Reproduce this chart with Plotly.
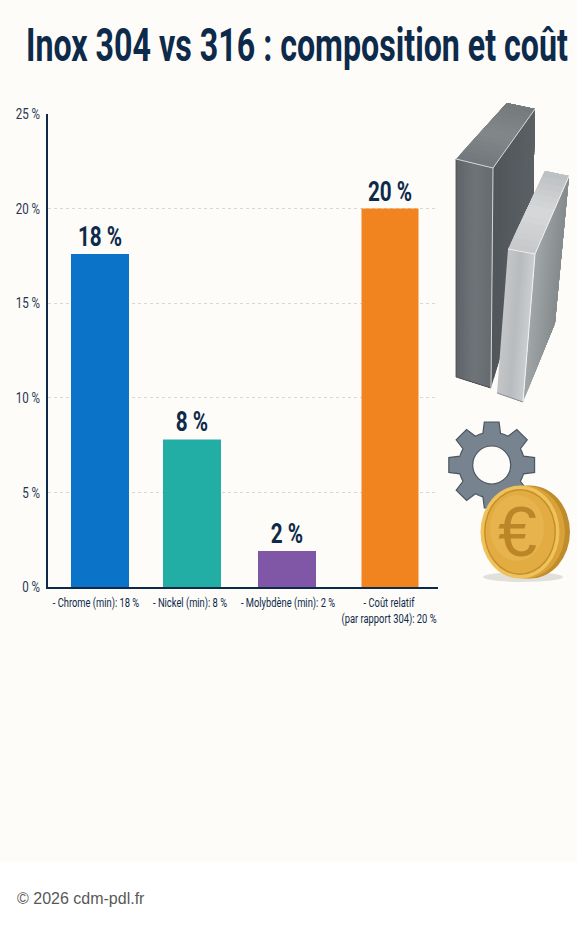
import numpy as np
import plotly.graph_objects as go

W, H = 577, 926
categories = ["- Chrome (min): 18 %", "- Nickel (min): 8 %", "- Molybdène (min): 2 %",
              "- Coût relatif<br>(par rapport 304): 20 %"]
values = [17.6, 7.8, 1.9, 20.0]
value_labels = ["18 %", "8 %", "2 %", "20 %"]
y_ticks = [0, 5, 10, 15, 20, 25]
y_tick_labels = ["0 %", "5 %", "10 %", "15 %", "20 %", "25 %"]

bar_colors = ["#0B74C8", "#22ADA5", "#8056A6", "#F2841F"]
bar_slots = [100, 192, 287, 390]
bar_widths = [58, 58, 58, 57]
label_slots = [96, 190, 288, 389]

NAVY = "#0E2A4A"
BG = "#FDFCF9"
FONT = "Roboto, sans-serif"

px = lambda x: x / W
py = lambda y: 1 - y / H


def poly(points, fill, line=None, lw=0.0, closed=True):
    d = "M " + " L ".join(f"{px(x):.5f},{py(y):.5f}" for x, y in points) + (" Z" if closed else "")
    return dict(type="path", xref="paper", yref="paper", path=d, fillcolor=fill,
                line=dict(color=line or fill, width=lw), layer="above")


def edge(points, color, lw):
    return poly(points, "rgba(0,0,0,0)", color, lw, closed=False)


def ellipse(cx, cy, rx, ry, fill, line=None, lw=0.0):
    return dict(type="circle", xref="paper", yref="paper", x0=px(cx - rx), x1=px(cx + rx),
                y0=py(cy + ry), y1=py(cy - ry), fillcolor=fill,
                line=dict(color=line or fill, width=lw), layer="above")


def hexrgb(c):
    return np.array([int(c[i:i + 2], 16) for i in (1, 3, 5)], float)


def grad(a, b, c, d, stops, n=14):
    """Quad a-b-c-d shaded from edge a-d to edge b-c; painted back to front, so no seams."""
    a, b, c, d = map(lambda p: np.array(p, float), (a, b, c, d))
    rgb = [hexrgb(s) for s in stops]
    out = []
    for i in range(n):
        t0 = i / n
        tm = (i + 0.5) / n * (len(rgb) - 1)
        k = min(int(tm), len(rgb) - 2)
        col = rgb[k] + (rgb[k + 1] - rgb[k]) * (tm - k)
        col = "#%02x%02x%02x" % tuple(int(v) for v in col)
        out.append(poly([a + (b - a) * t0, b, c, d + (c - d) * t0], col))
    return out


shapes = [dict(type="rect", xref="paper", yref="paper", x0=0, x1=1, y0=0, y1=py(862),
               fillcolor="#FFFFFF", line=dict(width=0), layer="below")]
# dark plate
shapes += grad((493, 168), (535, 109), (532, 250), (491, 388), ["#50565A", "#5B6165"])
shapes += grad((456, 159), (507, 103), (535, 109), (493, 168), ["#72777B", "#83888B", "#74797C"])
shapes += grad((456, 159), (493, 168), (491, 388), (456, 377), ["#5E6468", "#6F7478", "#676C70"])
shapes.append(edge([(491, 388), (456, 377), (456, 159)], "#43494C", 0.8))
shapes.append(edge([(456, 159), (493, 168), (535, 109)], "#D5D8DA", 1.0))
shapes.append(edge([(493, 168), (491, 388)], "#D5D8DA", 1.0))
# light plate
shapes += grad((535, 254), (569, 176), (555, 323), (523, 402), ["#A2A6A9", "#858A8E"])
shapes += grad((508, 249), (545, 171), (569, 176), (535, 254), ["#C6C8CA", "#D8D9DA", "#BDC0C2"])
shapes += grad((508, 249), (535, 254), (523, 402), (497, 393), ["#C4C6C8", "#B9BCBF", "#CCCED0"])
shapes.append(edge([(535, 254), (523, 402)], "#F2F3F3", 1.0))
shapes.append(edge([(508, 249), (535, 254), (569, 176)], "#EEEFEF", 1.0))
shapes.append(edge([(523, 402), (497, 393)], "#7B7F83", 0.8))

# gear
cx, cy = 491.7, 465
gear_pts = []
for i in range(8):
    c = i * np.pi / 4 - np.pi / 2
    for da, r in [(-0.27, 33), (-0.17, 43.5), (0.17, 43.5), (0.27, 33)]:
        gear_pts.append((cx + r * np.cos(c + da), cy + r * np.sin(c + da)))
    gear_pts.append((cx + 33 * np.cos(c + np.pi / 8), cy + 33 * np.sin(c + np.pi / 8)))
shapes.append(poly(gear_pts, "#77848F", "#4B5763", 1.2))
shapes.append(ellipse(cx, cy, 19, 19, BG, "#4B5763", 1.2))

# coin
shapes.append(ellipse(523, 577, 40, 5, "#E2E0DA"))
shapes.append(ellipse(530, 532, 40, 46.5, "#C08B2A"))
shapes.append(ellipse(525, 532, 40, 46.5, "#D8A238"))
shapes.append(ellipse(520, 532, 39.5, 46.5, "#EFC25C"))
shapes.append(ellipse(520, 532, 36, 43, "#C4902C"))
shapes.append(ellipse(520, 532, 34.5, 41.5, "#E2AC42"))
shapes.append(ellipse(517, 528, 27, 33, "#E6B34C"))

annotations = [
    dict(text="€", x=px(517), y=py(532), xref="paper", yref="paper", showarrow=False,
         font=dict(family="Liberation Sans, sans-serif", size=70, color="#BC8628"),
         xanchor="center", yanchor="middle"),
    dict(text="© 2026 cdm-pdl.fr", x=px(15), y=py(898), xref="paper", yref="paper", showarrow=False,
         font=dict(family="Liberation Sans, Arial, sans-serif", size=16, color="#595959"),
         xanchor="left", yanchor="middle"),
]

fig = go.Figure(go.Bar(
    x=bar_slots, y=values, width=bar_widths, marker=dict(color=bar_colors, line=dict(width=0)),
    text=value_labels, textposition="outside", cliponaxis=False, constraintext="none",
    textfont=dict(family=FONT, size=28, color=NAVY, weight="bold"),
    hoverinfo="skip",
))
fig.update_layout(
    width=W, height=H, autosize=False,
    margin=dict(l=0, r=0, t=0, b=0, pad=0, autoexpand=False),
    paper_bgcolor=BG, plot_bgcolor="rgba(0,0,0,0)", showlegend=False,
    title=dict(text="Inox 304 vs 316 : composition et coût", x=px(26), y=py(45),
               xref="paper", yref="paper", xanchor="left", yanchor="middle", automargin=False,
               font=dict(family=FONT, size=46, color=NAVY, weight="bold")),
    shapes=shapes, annotations=annotations,
    xaxis=dict(domain=[px(48), px(438)], range=[48, 438], tickmode="array", automargin=False,
               tickvals=label_slots, ticktext=categories, ticks="", showgrid=False,
               zeroline=False, showline=True, linecolor=NAVY, linewidth=2, anchor="y",
               ticklabelstandoff=2,
               tickfont=dict(family=FONT, size=13, color=NAVY), tickangle=0),
    yaxis=dict(domain=[py(587), py(114)], range=[0, 25], tickmode="array", tickvals=y_ticks,
               ticktext=y_tick_labels, automargin=False, ticks="", showgrid=True,
               griddash="3px,3px", ticklabelstandoff=3,
               gridcolor="#D9D9D3", gridwidth=1, zeroline=False, showline=True,
               linecolor=NAVY, linewidth=2,
               tickfont=dict(family=FONT, size=15, color="#24364F")),
)

POST = """
document.body.style.margin='0';
document.documentElement.style.background='#FDFCF9';
var gd=document.getElementById('{plot_id}');
function squeeze(sel,sx,dy){
  gd.querySelectorAll(sel).forEach(function(t){
    var a=parseFloat(t.getAttribute('x'))||0, o=t.getAttribute('transform')||'';
    t.setAttribute('transform',o+' translate('+a+','+(dy||0)+') scale('+sx+',1) translate('+(-a)+',0)');
  });
}
var ti=gd.querySelector('.gtitle');
squeeze('.gtitle',542/ti.getBBox().width);
squeeze('.xtick text',0.72);
squeeze('.ytick text',0.77);
squeeze('.bartext',0.74,2);
"""
fig.write_html("out.html", config={"displayModeBar": False}, post_script=POST)
